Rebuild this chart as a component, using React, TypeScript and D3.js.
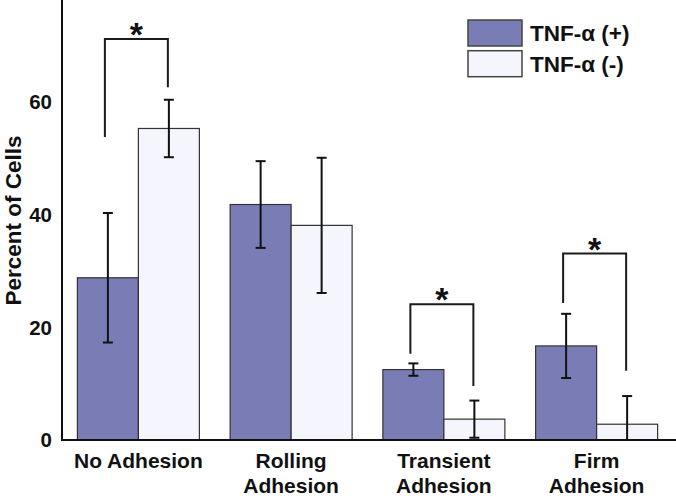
import React from "react";
import * as d3 from "d3";

const categories = ["No Adhesion", "Rolling Adhesion", "Transient Adhesion", "Firm Adhesion"];
const categoryLines = [["No Adhesion"], ["Rolling", "Adhesion"], ["Transient", "Adhesion"], ["Firm", "Adhesion"]];
const seriesNames = ["TNF-α (+)", "TNF-α (-)"];
const tnfPlus = [28.8, 41.8, 12.5, 16.7];
const tnfPlusErr = [11.5, 7.7, 1.1, 5.7];
const tnfMinus = [55.3, 38.1, 3.7, 2.8];
const tnfMinusErr = [5.1, 12.0, 3.3, 5.0];
const yTicks = [0, 20, 40, 60];
// significance brackets: category index, top value, left leg bottom, right leg bottom
const bracketIdx = [0, 2, 3];
const bracketTop = [71.2, 24.1, 33.1];
const bracketLeft = [53.8, 15.3, 24.3];
const bracketRight = [62.6, 9.6, 12.3];

const W = 676;
const H = 499;
const FONT = "'Liberation Sans', Arial, Helvetica, sans-serif";
const DARK = "#7a7cb6";
const LIGHT = "#f4f5fd";

export default function App() {
  const x = d3.scaleBand<string>().domain(categories).range([62, 673]).paddingInner(0).paddingOuter(0);
  const y = d3.scaleLinear().domain([0, 78]).range([440, 0.6]);
  const barW = 61;
  const series = [
    { vals: tnfPlus, errs: tnfPlusErr, fill: DARK, off: -barW },
    { vals: tnfMinus, errs: tnfMinusErr, fill: LIGHT, off: 0 },
  ];
  const center = (i: number) => (x(categories[i]) as number) + x.bandwidth() / 2;

  return (
    <svg width={W} height={H} style={{ position: "absolute", left: 0, top: 0, background: "#fff" }}>
      {/* bars */}
      {series.map((s, si) =>
        s.vals.map((v, i) => (
          <rect
            key={`b${si}-${i}`}
            x={center(i) + s.off}
            y={y(v)}
            width={barW}
            height={y(0) - y(v)}
            fill={s.fill}
            stroke="#333"
            strokeWidth={1.2}
          />
        ))
      )}
      {/* error bars */}
      {series.map((s, si) =>
        s.vals.map((v, i) => {
          const cx = center(i) + s.off + barW / 2;
          const top = y(v + s.errs[i]);
          const lo = v - s.errs[i];
          const bot = y(Math.max(0, lo));
          return (
            <g key={`e${si}-${i}`} stroke="#111" strokeWidth={2}>
              <line x1={cx} x2={cx} y1={top} y2={bot} />
              <line x1={cx - 5} x2={cx + 5} y1={top} y2={top} />
              {lo > 0 && <line x1={cx - 5} x2={cx + 5} y1={bot} y2={bot} />}
            </g>
          );
        })
      )}
      {/* significance brackets */}
      {bracketIdx.map((ci, k) => {
        const lx = center(ci) - barW / 2 - 3;
        const rx = center(ci) + barW / 2 - 1;
        const ty = y(bracketTop[k]);
        return (
          <g key={`br${k}`}>
            <path
              d={`M${lx},${y(bracketLeft[k])}V${ty}H${rx}V${y(bracketRight[k])}`}
              fill="none"
              stroke="#1a1a1a"
              strokeWidth={2}
            />
            <text x={(lx + rx) / 2} y={ty + 7} textAnchor="middle" fontFamily={FONT} fontWeight="bold" fontSize={34} fill="#111">
              *
            </text>
          </g>
        );
      })}
      {/* axes */}
      <line x1={62} x2={62} y1={0} y2={441} stroke="#111" strokeWidth={2} />
      <line x1={61} x2={676} y1={440} y2={440} stroke="#111" strokeWidth={2} />
      {yTicks.map((t) => (
        <text key={`t${t}`} x={52} y={y(t)} dy="0.36em" textAnchor="end" fontFamily={FONT} fontWeight="bold" fontSize={20.5} fill="#111">
          {t}
        </text>
      ))}
      <text
        transform={`translate(21,${(133 + 308) / 2}) rotate(-90)`}
        textAnchor="middle"
        fontFamily={FONT}
        fontWeight="bold"
        fontSize={22.5}
        fill="#111"
      >
        Percent of Cells
      </text>
      {categoryLines.map((lines, i) =>
        lines.map((ln, j) => (
          <text key={`c${i}-${j}`} x={center(i)} y={468 + j * 25} textAnchor="middle" fontFamily={FONT} fontWeight="bold" fontSize={21} fill="#111">
            {ln}
          </text>
        ))
      )}
      {/* legend */}
      {seriesNames.map((n, i) => (
        <g key={`l${i}`}>
          <rect x={468} y={20 + i * 30.7} width={54} height={26} fill={i === 0 ? DARK : LIGHT} stroke="#444" strokeWidth={1.5} />
          <text x={530} y={41 + i * 31} fontFamily={FONT} fontWeight="bold" fontSize={22.5} fill="#111">
            {n}
          </text>
        </g>
      ))}
    </svg>
  );
}
